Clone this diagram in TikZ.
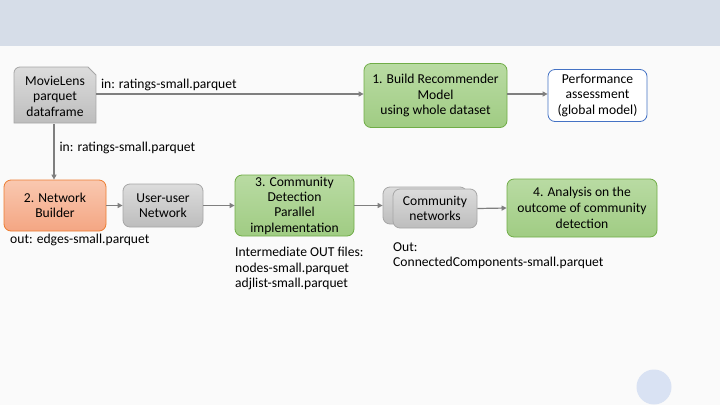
\documentclass[tikz,border=0pt]{standalone}
\usepackage{fontspec}
\setmainfont{Carlito}
\usetikzlibrary{arrows.meta}
\definecolor{bgc}{HTML}{FAFAFA}
\definecolor{bandc}{HTML}{D6DDE8}
\definecolor{circc}{HTML}{D9E2F3}
\definecolor{linec}{HTML}{7F7F7F}
\definecolor{grayT}{HTML}{DCDCDC}
\definecolor{grayB}{HTML}{BDBDBD}
\definecolor{grayD}{HTML}{A6A6A6}
\definecolor{greenT}{HTML}{B9DBA3}
\definecolor{greenB}{HTML}{A0CC83}
\definecolor{greenD}{HTML}{70AD47}
\definecolor{orT}{HTML}{F9C8B0}
\definecolor{orB}{HTML}{F4A683}
\definecolor{orD}{HTML}{ED7D31}
\definecolor{blueD}{HTML}{4472C4}
\tikzset{
  box/.style={rectangle, rounded corners=7pt, align=center, inner sep=0pt, font=\fontsize{13.6}{15.6}\selectfont, line width=0.8pt},
  graybox/.style={box, draw=grayD, top color=grayT, bottom color=grayB},
  greenbox/.style={box, draw=greenD, top color=greenT, bottom color=greenB},
  orangebox/.style={box, draw=orD, top color=orT, bottom color=orB},
  bluebox/.style={box, draw=blueD, fill=white},
  lbl/.style={font=\fontsize{13.6}{15.6}\selectfont, inner sep=0pt, align=left},
  conn/.style={draw=linec, line width=1.2pt, -{Triangle[length=5pt,width=5pt]}},
}
\begin{document}
\begin{tikzpicture}[x=1pt,y=-1pt]
\useasboundingbox (0,0) rectangle (720,405);
\fill[bgc] (0,0) rectangle (720,405);
\fill[bandc] (0,0) rectangle (720,46);
\fill[circc] (654,387) circle (17.5);
% MovieLens snipped shape
\shade[top color=grayT, bottom color=grayB, draw=grayD, line width=0.8pt]
  (14,123) -- (14,73) .. controls (14,69.7) and (16.7,67) .. (20,67) -- (88,67) -- (96,75) -- (96,123) -- cycle;
\node[box, minimum width=82pt, minimum height=56pt] (ml) at (55,96) {MovieLens\\parquet\\dataframe};
% Build recommender
\node[greenbox, minimum width=143pt, minimum height=64pt] (br) at (435.5,95.5) {1. Build Recommender\\Model\\using whole dataset};
\node[bluebox, minimum width=99pt, minimum height=52pt] (pa) at (597.5,95.5) {Performance\\assessment\\(global model)};
% Row 2
\node[orangebox, minimum width=102pt, minimum height=51pt] (nb) at (55,205.5) {2. Network\\Builder};
\node[graybox, minimum width=80pt, minimum height=43pt] (uu) at (163,205.5) {User-user\\Network};
\node[greenbox, minimum width=119pt, minimum height=61pt, font=\fontsize{13.6}{15.3}\selectfont] (cd) at (294.5,205.5) {3. Community\\Detection\\Parallel\\implementation};
\node[graybox, minimum width=84pt, minimum height=37pt] (cnb) at (425,205.5) {};
\node[graybox, minimum width=84pt, minimum height=39pt] (cn) at (435,208.5) {Community\\networks};
\node[greenbox, minimum width=150pt, minimum height=58pt, font=\fontsize{13.6}{16}\selectfont] (an) at (582,208) {4. Analysis on the\\outcome of community\\detection};
% connectors
\draw[conn] (ml.east |- 0,94) -- (br.west |- 0,94) node[pos=0, lbl, anchor=south west, xshift=4pt, yshift=3pt] {in: ratings-small.parquet};
\draw[conn] (br.east |- 0,94) -- (pa.west |- 0,94);
\draw[conn] (ml.south -| 54,0) -- (nb.north -| 54,0) node[pos=0.43, lbl, anchor=west, xshift=5pt] {in: ratings-small.parquet};
\draw[conn] (nb.east) -- (uu.west);
\draw[conn] (uu.east) -- (cd.west);
\draw[conn] (cd.east) -- (cnb.west);
\draw[conn] (cn.east) -- (an.west);
% labels
\node[lbl, anchor=west] (t1) at (10,240) {out: edges-small.parquet};
\node[lbl, anchor=north west] (t2) at (235,247) {Intermediate OUT files:\\nodes-small.parquet\\adjlist-small.parquet};
\node[lbl, anchor=north west] (t3) at (393,242) {Out:\\ConnectedComponents-small.parquet};
\end{tikzpicture}
\end{document}
